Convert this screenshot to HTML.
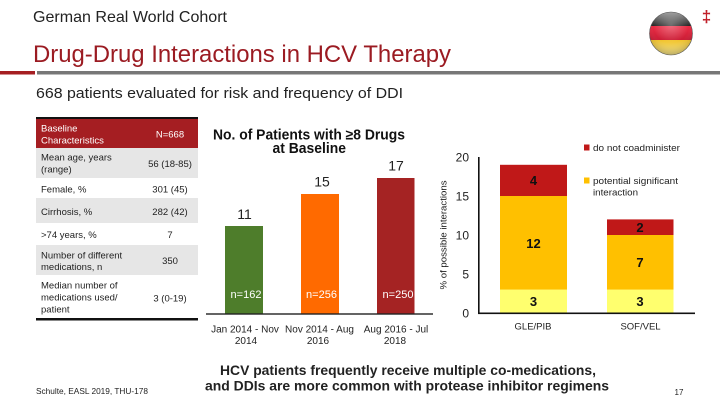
<!DOCTYPE html>
<html><head><meta charset="utf-8"><style>
html,body{margin:0;padding:0;background:#fff;width:720px;height:405px;overflow:hidden}
svg{display:block}
text{font-family:"Liberation Sans",Arial,sans-serif}
</style></head><body>
<svg width="720" height="405" viewBox="0 0 720 405" xmlns="http://www.w3.org/2000/svg">
<defs>
<clipPath id="fc"><circle cx="671" cy="33.5" r="21.5"/></clipPath>
<radialGradient id="gl" cx="0.5" cy="0.3" r="0.7">
<stop offset="0" stop-color="#fff" stop-opacity="0.35"/>
<stop offset="0.6" stop-color="#fff" stop-opacity="0.05"/>
<stop offset="1" stop-color="#000" stop-opacity="0.25"/>
</radialGradient>
<linearGradient id="blk" x1="0" y1="0" x2="0" y2="1">
<stop offset="0" stop-color="#9a9a9a"/><stop offset="1" stop-color="#1a1a1a"/>
</linearGradient>
<linearGradient id="red" x1="0" y1="0" x2="0" y2="1">
<stop offset="0" stop-color="#e8203a"/><stop offset="1" stop-color="#c8102a"/>
</linearGradient>
<linearGradient id="gld" x1="0" y1="0" x2="0" y2="1">
<stop offset="0" stop-color="#f0c020"/><stop offset="1" stop-color="#f8e890"/>
</linearGradient>
</defs>

<!-- header -->
<text x="33" y="22" font-size="16" fill="#222" textLength="194" lengthAdjust="spacingAndGlyphs">German Real World Cohort</text>
<text x="33" y="62" font-size="24" fill="#9b1b22" textLength="418" lengthAdjust="spacingAndGlyphs">Drug-Drug Interactions in HCV Therapy</text>
<rect x="0" y="71" width="35" height="3.5" fill="#a51e22"/>
<rect x="37" y="71" width="683" height="3.5" fill="#777"/>
<text x="36" y="98" font-size="15" fill="#222" textLength="367" lengthAdjust="spacingAndGlyphs">668 patients evaluated for risk and frequency of DDI</text>

<!-- flag -->
<g clip-path="url(#fc)">
<rect x="649" y="11" width="44" height="15" fill="url(#blk)"/>
<rect x="649" y="26" width="44" height="14" fill="url(#red)"/>
<rect x="649" y="40" width="44" height="16" fill="url(#gld)"/>
<circle cx="671" cy="33.5" r="21.5" fill="url(#gl)"/>
</g>
<circle cx="671" cy="33.5" r="21.5" fill="none" stroke="#555" stroke-width="0.6"/>
<text x="706.5" y="22" font-size="17" font-weight="bold" fill="#c0202a" text-anchor="middle">‡</text>

<!-- table -->
<rect x="36" y="117" width="162" height="2" fill="#111"/>
<rect x="36" y="119" width="162" height="29" fill="#a51e22"/>
<rect x="36" y="148" width="162" height="30" fill="#e6e6e6"/>
<rect x="36" y="198" width="162" height="25" fill="#e6e6e6"/>
<rect x="36" y="245" width="162" height="30" fill="#e6e6e6"/>
<rect x="36" y="318" width="162" height="2.5" fill="#111"/>
<g font-size="9.5" fill="#fff">
<text x="41" y="131.5">Baseline</text>
<text x="41" y="143.3">Characteristics</text>
<text x="170" y="137.3" text-anchor="middle">N=668</text>
</g>
<g font-size="9.5" fill="#222">
<text x="41" y="160.7">Mean age, years</text>
<text x="41" y="172.5">(range)</text>
<text x="170" y="167" text-anchor="middle">56 (18-85)</text>
<text x="41" y="192.5">Female, %</text>
<text x="170" y="192.5" text-anchor="middle">301 (45)</text>
<text x="41" y="215">Cirrhosis, %</text>
<text x="170" y="215" text-anchor="middle">282 (42)</text>
<text x="41" y="238">&gt;74 years, %</text>
<text x="170" y="238" text-anchor="middle">7</text>
<text x="41" y="258.3">Number of different</text>
<text x="41" y="270">medications, n</text>
<text x="170" y="264" text-anchor="middle">350</text>
<text x="41" y="288.3">Median number of</text>
<text x="41" y="300.3">medications used/</text>
<text x="41" y="312.5">patient</text>
<text x="170" y="301.5" text-anchor="middle">3 (0-19)</text>
</g>

<!-- chart 1 -->
<text x="213" y="139.5" font-size="14.5" font-weight="bold" fill="#111" textLength="192" lengthAdjust="spacingAndGlyphs">No. of Patients with ≥8 Drugs</text>
<text x="272.5" y="152.8" font-size="14.5" font-weight="bold" fill="#111" textLength="73.5" lengthAdjust="spacingAndGlyphs">at Baseline</text>
<rect x="225" y="226" width="38" height="88" fill="#4e7d2b"/>
<rect x="301" y="194" width="38" height="120" fill="#ff6a00"/>
<rect x="377" y="178" width="37.5" height="136" fill="#a52323"/>
<rect x="206" y="313.3" width="227" height="1.4" fill="#222"/>
<g font-size="14" fill="#222" text-anchor="middle">
<text x="244.5" y="219">11</text>
<text x="322" y="186.5">15</text>
<text x="396" y="170.5">17</text>
</g>
<g font-size="11" fill="#fff" text-anchor="middle">
<text x="246" y="298">n=162</text>
<text x="321.5" y="298">n=256</text>
<text x="398" y="298">n=250</text>
</g>
<g font-size="10" fill="#222" text-anchor="middle">
<text x="245" y="332.5">Jan 2014 - Nov</text>
<text x="246" y="344">2014</text>
<text x="319.5" y="332.5">Nov 2014 - Aug</text>
<text x="318" y="344">2016</text>
<text x="396" y="332.5">Aug 2016 - Jul</text>
<text x="395" y="344">2018</text>
</g>

<!-- chart 2 -->
<text transform="translate(446.5,235) rotate(-90)" font-size="9.5" fill="#222" text-anchor="middle" textLength="109" lengthAdjust="spacingAndGlyphs">% of possible interactions</text>
<g font-size="12" fill="#222" text-anchor="end">
<text x="469" y="161.5">20</text>
<text x="469" y="200.5">15</text>
<text x="469" y="239.5">10</text>
<text x="469" y="278.5">5</text>
<text x="469" y="317.5">0</text>
</g>
<!-- GLE/PIB -->
<rect x="500" y="289.6" width="67" height="23.4" fill="#ffff6e"/>
<rect x="500" y="196" width="67" height="93.6" fill="#ffc000"/>
<rect x="500" y="164.8" width="67" height="31.2" fill="#c01818"/>
<!-- SOF/VEL -->
<rect x="607" y="289.6" width="66.5" height="23.4" fill="#ffff6e"/>
<rect x="607" y="235" width="66.5" height="54.6" fill="#ffc000"/>
<rect x="607" y="219.4" width="66.5" height="15.6" fill="#c01818"/>
<rect x="478" y="157" width="1.6" height="157" fill="#111"/>
<rect x="478" y="312.5" width="217" height="1.6" fill="#111"/>
<g font-size="13" font-weight="bold" fill="#111" text-anchor="middle">
<text x="533.5" y="185">4</text>
<text x="533.5" y="248">12</text>
<text x="533.5" y="306">3</text>
<text x="640" y="232">2</text>
<text x="640" y="267">7</text>
<text x="640" y="306">3</text>
</g>
<g font-size="9.5" fill="#222" text-anchor="middle">
<text x="533" y="329.5">GLE/PIB</text>
<text x="640.5" y="329.5">SOF/VEL</text>
</g>
<!-- legend -->
<rect x="584" y="144.5" width="5.5" height="6" fill="#c01818"/>
<text x="593" y="151" font-size="9.5" fill="#222" textLength="87" lengthAdjust="spacingAndGlyphs">do not coadminister</text>
<rect x="584" y="177.5" width="5.5" height="6" fill="#ffc000"/>
<text x="593" y="184" font-size="9.5" fill="#222" textLength="85" lengthAdjust="spacingAndGlyphs">potential significant</text>
<text x="593" y="195.5" font-size="9.5" fill="#222" textLength="45" lengthAdjust="spacingAndGlyphs">interaction</text>

<!-- footer -->
<text x="36" y="394" font-size="8" fill="#222" textLength="112" lengthAdjust="spacingAndGlyphs">Schulte, EASL 2019, THU-178</text>
<text x="408" y="375" font-size="13.5" font-weight="bold" fill="#222" text-anchor="middle" textLength="376" lengthAdjust="spacingAndGlyphs">HCV patients frequently receive multiple co-medications,</text>
<text x="407" y="390.5" font-size="13.5" font-weight="bold" fill="#222" text-anchor="middle" textLength="404" lengthAdjust="spacingAndGlyphs">and DDIs are more common with protease inhibitor regimens</text>
<text x="679" y="395" font-size="8" fill="#222" text-anchor="middle">17</text>
</svg>
</body></html>
